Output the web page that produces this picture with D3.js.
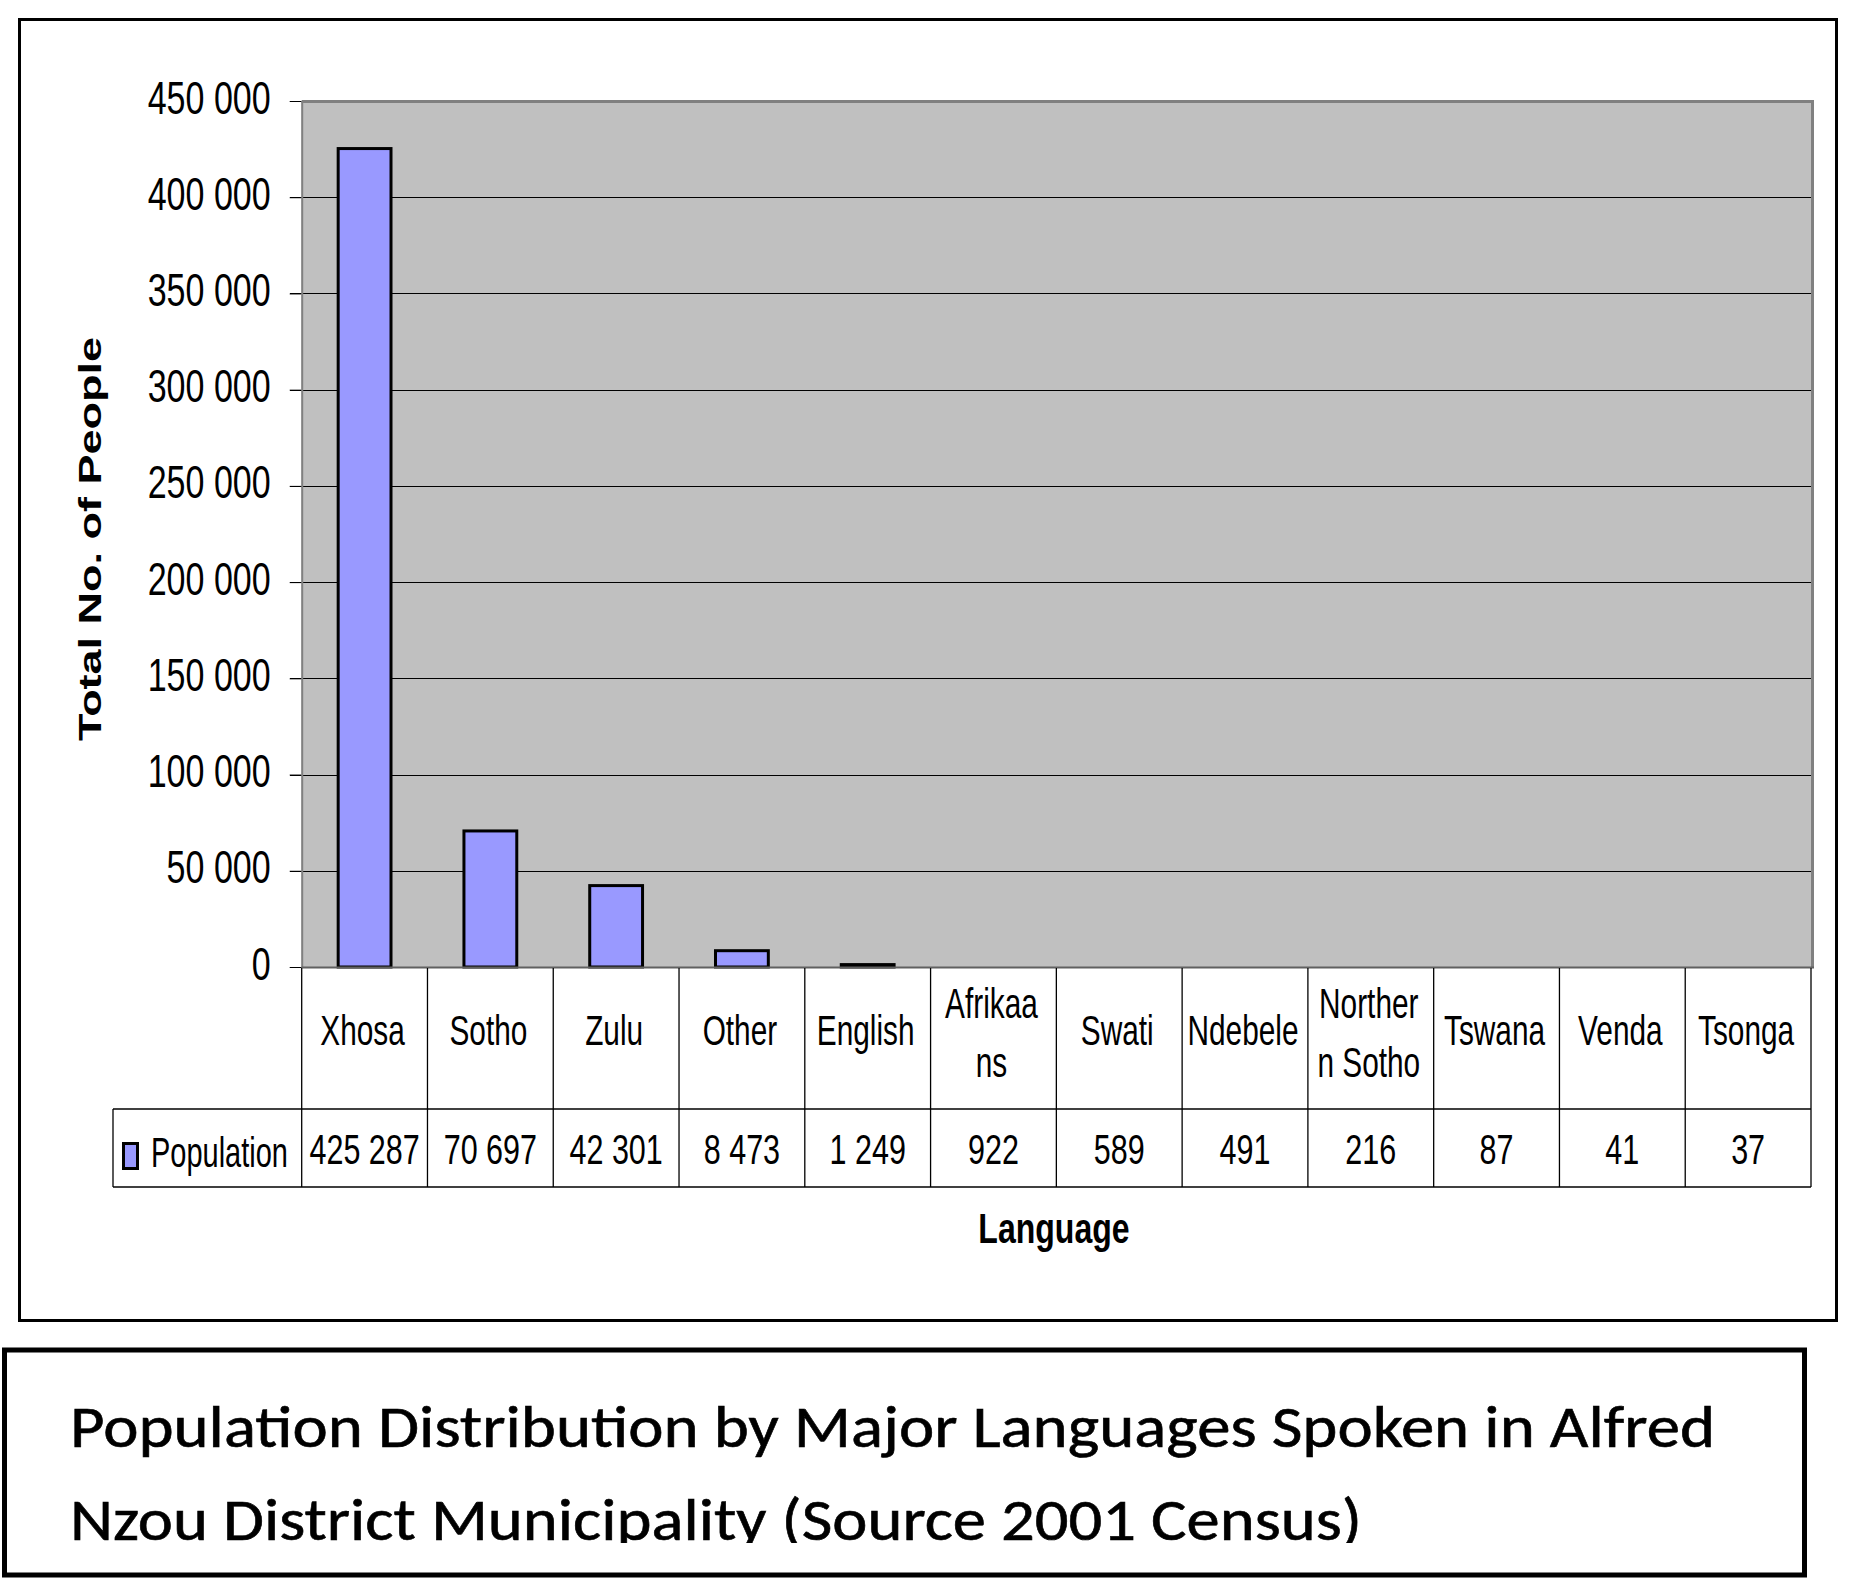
<!DOCTYPE html>
<html>
<head>
<meta charset="utf-8">
<script src="https://cdn.jsdelivr.net/npm/d3@7"></script>
<style>
  html, body { margin: 0; padding: 0; background: #ffffff; }
  svg { display: block; }
</style>
</head>
<body>
<svg id="chart" width="1854" height="1582"></svg>
<script>
// ---------- data ----------
const categories = ["Xhosa", "Sotho", "Zulu", "Other", "English", "Afrikaans", "Swati", "Ndebele", "Northern Sotho", "Tswana", "Venda", "Tsonga"];
const categoryLabelLines = [["Xhosa"], ["Sotho"], ["Zulu"], ["Other"], ["English"], ["Afrikaa", "ns"], ["Swati"], ["Ndebele"], ["Norther", "n Sotho"], ["Tswana"], ["Venda"], ["Tsonga"]];
const population = [425287, 70697, 42301, 8473, 1249, 922, 589, 491, 216, 87, 41, 37];
const yTicks = [0, 50000, 100000, 150000, 200000, 250000, 300000, 350000, 400000, 450000];
const seriesName = "Population";
const xAxisTitle = "Language";
const yAxisTitle = "Total No. of People";
const titleLines = ["Population Distribution by Major Languages Spoken in Alfred", "Nzou District Municipality (Source 2001 Census)"];

// ---------- layout ----------
const svg = d3.select("#chart");
const plotL = 301.7, plotR = 1811, plotT = 101, plotB = 967;
const catRowB = 1109, valRowB = 1187, legendL = 113;
const arial = "'Liberation Sans', Arial, sans-serif";
const sx = 0.71;

const fmt = d3.formatLocale({ decimal: ".", thousands: " ", grouping: [3], currency: ["", ""] }).format(",d");

const x = d3.scaleBand().domain(categories).range([plotL, plotR]).paddingInner(0.58).paddingOuter(0.29);
const y = d3.scaleLinear().domain([0, 450000]).range([plotB, plotT]);
const colStart = c => x(c) - x.step() * x.paddingOuter();
const colCenter = c => x(c) + x.bandwidth() / 2;

// outer chart frame
svg.append("rect").attr("x", 19.5).attr("y", 19.5).attr("width", 1817).attr("height", 1301)
  .attr("fill", "#fff").attr("stroke", "#000").attr("stroke-width", 3);

// plot area
svg.append("rect").attr("x", plotL).attr("y", plotT).attr("width", plotR - plotL).attr("height", plotB - plotT)
  .attr("fill", "#c0c0c0");

// gridlines
svg.append("g").selectAll("line").data(yTicks.filter(d => d > 0)).join("line")
  .attr("x1", 290).attr("x2", plotR).attr("y1", d => Math.round(y(d)) + 0.5).attr("y2", d => Math.round(y(d)) + 0.5)
  .attr("stroke", "#000").attr("stroke-width", 1);

// y axis (ticks + labels)
const yAxis = svg.append("g").attr("transform", `translate(${plotL},0)`)
  .call(d3.axisLeft(y).tickValues(yTicks).tickFormat(fmt).tickSize(12).tickSizeOuter(0));
yAxis.select(".domain").remove();
yAxis.selectAll(".tick line").attr("stroke", "#000").attr("stroke-width", 1);
yAxis.selectAll(".tick text")
  .attr("x", 0).attr("y", 0).attr("dy", null)
  .attr("transform", "translate(-31,12) scale(0.74,1)")
  .attr("text-anchor", "end")
  .attr("font-family", arial).attr("font-size", 46).attr("fill", "#000");

// plot area border
svg.append("line").attr("x1", plotL).attr("x2", plotR + 3).attr("y1", plotT + 0.5).attr("y2", plotT + 0.5)
  .attr("stroke", "#808080").attr("stroke-width", 3);
svg.append("line").attr("x1", plotR + 1.5).attr("x2", plotR + 1.5).attr("y1", plotT).attr("y2", plotB)
  .attr("stroke", "#808080").attr("stroke-width", 3);
svg.append("line").attr("x1", plotL + 0.5).attr("x2", plotL + 0.5).attr("y1", plotT).attr("y2", plotB)
  .attr("stroke", "#808080").attr("stroke-width", 2);

// bars
svg.append("g").selectAll("rect").data(categories).join("rect")
  .attr("x", c => x(c))
  .attr("y", (c, i) => y(population[i]))
  .attr("width", x.bandwidth())
  .attr("height", (c, i) => y(0) - y(population[i]))
  .attr("fill", "#9999ff")
  .attr("stroke", "#000").attr("stroke-width", 3)
  .attr("display", (c, i) => (y(0) - y(population[i]) < 2 ? "none" : null));

// x axis line
svg.append("line").attr("x1", plotL).attr("x2", plotR + 3).attr("y1", plotB + 0.5).attr("y2", plotB + 0.5)
  .attr("stroke", "#606060").attr("stroke-width", 2);

// data table grid
const grid = svg.append("g").attr("stroke", "#000").attr("stroke-width", 1.3);
grid.selectAll("line.v").data(categories.concat(["__end"])).join("line")
  .attr("x1", c => c === "__end" ? plotR : colStart(c))
  .attr("x2", c => c === "__end" ? plotR : colStart(c))
  .attr("y1", plotB + 1).attr("y2", valRowB);
grid.append("line").attr("x1", legendL).attr("x2", plotR).attr("y1", catRowB).attr("y2", catRowB);
grid.append("line").attr("x1", legendL).attr("x2", plotR).attr("y1", valRowB).attr("y2", valRowB);
grid.append("line").attr("x1", legendL).attr("x2", legendL).attr("y1", catRowB).attr("y2", valRowB);

// category labels
const catG = svg.append("g").selectAll("g").data(categories).join("g");
catG.each(function (c, i) {
  const lines = categoryLabelLines[i];
  const baselines = lines.length === 1 ? [1045] : [1018, 1077];
  lines.forEach((ln, k) => {
    d3.select(this).append("text")
      .attr("transform", `translate(${colCenter(c) - 2},${baselines[k]}) scale(${sx},1)`)
      .attr("text-anchor", "middle")
      .attr("font-family", arial).attr("font-size", 42).attr("fill", "#000")
      .text(ln);
  });
});

// values row
svg.append("g").selectAll("text").data(categories).join("text")
  .attr("transform", c => `translate(${colCenter(c)},1164) scale(${sx},1)`)
  .attr("text-anchor", "middle")
  .attr("font-family", arial).attr("font-size", 43).attr("fill", "#000")
  .text((c, i) => fmt(population[i]));

// legend key
svg.append("rect").attr("x", 123.5).attr("y", 1143.5).attr("width", 14).attr("height", 25)
  .attr("fill", "#9999ff").attr("stroke", "#000").attr("stroke-width", 3);
svg.append("text")
  .attr("transform", `translate(151,1167) scale(0.69,1)`)
  .attr("font-family", arial).attr("font-size", 42).attr("fill", "#000")
  .text(seriesName);

// x axis title
svg.append("text")
  .attr("transform", `translate(1054,1243) scale(0.745,1)`)
  .attr("text-anchor", "middle")
  .attr("font-family", arial).attr("font-weight", "bold").attr("font-size", 43).attr("fill", "#000")
  .text(xAxisTitle);

// y axis title
svg.append("text")
  .attr("transform", "translate(101,539) rotate(-90)")
  .attr("x", -202).attr("y", 0)
  .attr("textLength", 404).attr("lengthAdjust", "spacingAndGlyphs")
  .attr("font-family", arial).attr("font-weight", "bold").attr("font-size", 31).attr("fill", "#000")
  .text(yAxisTitle);

// caption box
svg.append("rect").attr("x", 4.5).attr("y", 1350).attr("width", 1800).attr("height", 225)
  .attr("fill", "none").attr("stroke", "#000").attr("stroke-width", 5);

const defs = svg.append("defs");
defs.append("clipPath").attr("id", "capClip").append("rect")
  .attr("x", 7).attr("y", 1353).attr("width", 1795).attr("height", 1543 - 1353);

const capG = svg.append("g").attr("clip-path", "url(#capClip)");
const capBaselines = [1447, 1540];
const capLengths = [1645, 1292];
capG.selectAll("text").data(titleLines).join("text")
  .attr("x", 70).attr("y", (d, i) => capBaselines[i])
  .attr("textLength", (d, i) => capLengths[i]).attr("lengthAdjust", "spacingAndGlyphs")
  .attr("font-family", "Carlito, Lato, 'Open Sans', sans-serif").attr("font-size", 59)
  .attr("stroke", "#000").attr("stroke-width", 0.6).attr("fill", "#000")
  .text(d => d);
</script>
</body>
</html>
